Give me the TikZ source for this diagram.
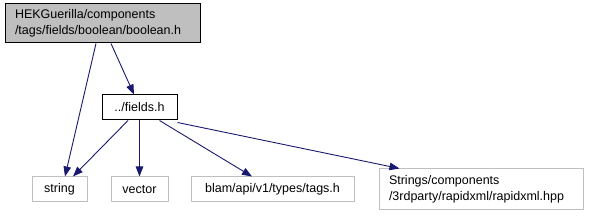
\documentclass[tikz,border=0pt]{standalone}
\usepackage{fontspec}
\setmainfont{Liberation Sans}
\usetikzlibrary{arrows.meta,positioning,calc}
\definecolor{edgeblue}{RGB}{25,25,112}
\definecolor{boxgray}{RGB}{191,191,191}
\tikzset{
  filebox/.style={draw=black, line width=1pt, minimum height=25pt, inner sep=0pt, font=\fontsize{12.5}{15.5}\selectfont},
  extbox/.style={draw=boxgray, line width=1pt, minimum height=25pt, inner sep=0pt, font=\fontsize{12.5}{15.5}\selectfont},
  incl/.style={draw=edgeblue, line width=0.9pt, -{Triangle[length=10pt,width=7.5pt]}}
}

\begin{document}
\begin{tikzpicture}[x=1pt, y=-1pt]
  \useasboundingbox (0,0) rectangle (589,216);
  % files
  \node[filebox, fill=boxgray, minimum width=195pt, minimum height=39pt, text width=175pt, inner xsep=10pt, align=left] (boolean) at (102.5,23.5) {HEKGuerilla/components\\/tags/fields/boolean/boolean.h};
  \node[filebox, minimum width=75pt] (fields) at (139.5,107.5) {../fields.h};
  % included headers
  \node[extbox, minimum width=55pt] (string) at (59.5,189.5) {string};
  \node[extbox, minimum width=57pt] (vector) at (139.5,189.5) {vector};
  \node[extbox, minimum width=163pt] (tags) at (272.5,189.5) {blam/api/v1/types/tags.h};
  \node[extbox, minimum width=204pt, minimum height=41pt, text width=184pt, inner xsep=10pt, align=left] (rapidxml) at (481,189.5) {Strings/components\\/3rdparty/rapidxml/rapidxml.hpp};
  % edges
  \draw[incl] ([xshift=-6.5pt]boolean.south) -- ([xshift=5.5pt]string.north);
  \draw[incl] ([xshift=8.5pt]boolean.south) -- ([xshift=-5.5pt]fields.north);
  \draw[incl] ([xshift=-11.5pt]fields.south) -- ([xshift=13.5pt]string.north);
  \draw[incl] (fields.south) -- (vector.north);
  \draw[incl] ([xshift=20pt]fields.south) -- ([xshift=-20.5pt]tags.north);
  \draw[incl] ([yshift=-2pt]fields.south east) -- ([xshift=21pt]rapidxml.north west);
\end{tikzpicture}
\end{document}
